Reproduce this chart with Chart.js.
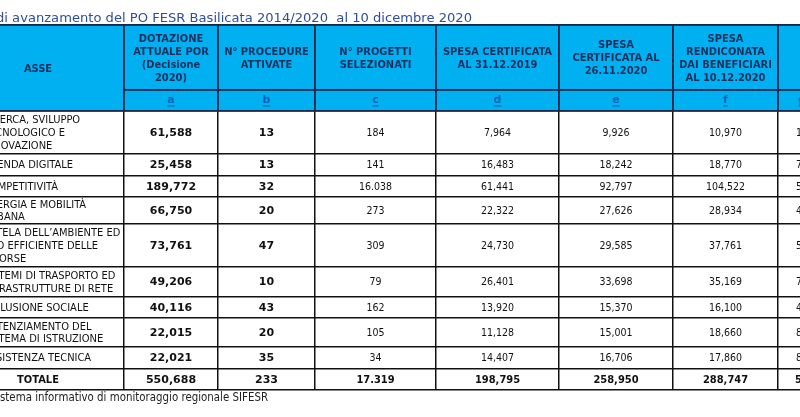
<!DOCTYPE html>
<html>
<head>
<meta charset="utf-8">
<script src="https://cdn.jsdelivr.net/npm/chart.js@4.4.1/dist/chart.umd.min.js"></script>
<style>
  html, body { margin: 0; padding: 0; background: #fff; }
</style>
</head>
<body>
<canvas id="tabella" width="800" height="417"></canvas>
<script>
// Dati (milioni di euro)
const assi = [
    ['RICERCA, SVILUPPO', 'TECNOLOGICO E', 'INNOVAZIONE'],
    ['AGENDA DIGITALE'],
    ['COMPETITIVITÀ'],
    ['ENERGIA E MOBILITÀ', 'URBANA'],
    ['TUTELA DELL\u2019AMBIENTE ED', 'USO EFFICIENTE DELLE', 'RISORSE'],
    ['SISTEMI DI TRASPORTO ED', 'INFRASTRUTTURE DI RETE'],
    ['INCLUSIONE SOCIALE'],
    ['POTENZIAMENTO DEL', 'SISTEMA DI ISTRUZIONE'],
    ['ASSISTENZA TECNICA'],
    ['TOTALE']
];
const dotazione     = [61.588, 25.458, 189.772, 66.750, 73.761, 49.206, 40.116, 22.015, 22.021, 550.688];
const procedure     = [13, 13, 32, 20, 47, 10, 43, 20, 35, 233];
const progetti      = [184, 141, 16038, 273, 309, 79, 162, 105, 34, 17319];
const spesaCert2019 = [7.964, 16.483, 61.441, 22.322, 24.730, 26.401, 13.920, 11.128, 14.407, 198.795];
const spesaCert2020 = [9.926, 18.242, 92.797, 27.626, 29.585, 33.698, 15.370, 15.001, 16.706, 258.950];
const spesaRend     = [10.970, 18.770, 104.522, 28.934, 37.761, 35.169, 16.100, 18.660, 17.860, 288.747];
const percRend      = [18, 74, 55, 43, 51, 71, 40, 85, 81, 52];

const intestazioni = [
    ['ASSE'],
    ['DOTAZIONE', 'ATTUALE POR', '(Decisione', '2020)'],
    ['N° PROCEDURE', 'ATTIVATE'],
    ['N° PROGETTI', 'SELEZIONATI'],
    ['SPESA CERTIFICATA', 'AL 31.12.2019'],
    ['SPESA', 'CERTIFICATA AL', '26.11.2020'],
    ['SPESA', 'RENDICONATA', 'DAI BENEFICIARI', 'AL 10.12.2020'],
    []
];
const lettere = ['', 'a', 'b', 'c', 'd', 'e', 'f', 'g'];

const titolo = 'Stato di avanzamento del PO FESR Basilicata 2014/2020  al 10 dicembre 2020';
const fonte = 'Fonte: Sistema informativo di monitoraggio regionale SIFESR';

// Layout della tabella
const colWidths = [172, 94, 97, 121, 123, 114, 105, 48];
const hiddenLeft = 48;          // parte della prima colonna fuori dall'immagine
const headHeights = [65, 21];
const rowHeights = [43, 22, 21, 27, 43, 30, 21, 29, 22, 21];
const labelIndent = 31;

const sum = a => a.reduce((s, v) => s + v, 0);
const edges = a => a.reduce((e, v) => { e.push(e[e.length - 1] + v); return e; }, [0]);
const colEdges = edges(colWidths);
const rowEdges = edges(headHeights.concat(rowHeights));
const headTotal = sum(headHeights);
const colMid = j => (colEdges[j] + colEdges[j + 1]) / 2;
const rowMid = i => (rowEdges[i + 2] + rowEdges[i + 3]) / 2;

const fmtDec = v => v.toFixed(3).replace('.', ',');
const fmtInt = v => String(v).replace(/\B(?=(\d{3})+(?!\d))/g, '.');

const COND = "'DejaVu Sans Condensed', 'DejaVu Sans', sans-serif";
const WIDE = "'DejaVu Sans', sans-serif";
const BLUE_BG = '#00b0f0';
const NAVY = '#17305e';
const LINE = '#111111';

// una serie per colonna: testo + stile
const colonne = [
    { values: assi.map(l => l), kind: 'label' },
    { values: dotazione.map(fmtDec), bold: true },
    { values: procedure.map(String), bold: true },
    { values: progetti.map(fmtInt) },
    { values: spesaCert2019.map(fmtDec) },
    { values: spesaCert2020.map(fmtDec) },
    { values: spesaRend.map(fmtDec) },
    { values: percRend.map(String) }
];

const datasets = colonne.map((c, j) => ({
    label: 'col' + j,
    kind: c.kind || 'value',
    bold: !!c.bold,
    data: c.values.map((t, i) => ({
        x: c.kind === 'label' && assi[i][0] !== 'TOTALE' ? colEdges[j] + labelIndent : colMid(j),
        y: rowMid(i),
        t: t
    })),
    pointRadius: 0
}));
datasets.push({
    label: 'head',
    kind: 'head',
    data: intestazioni.map((t, j) => ({ x: colMid(j), y: j === 0 ? headTotal / 2 : headHeights[0] / 2, t: t })),
    pointRadius: 0
});
datasets.push({
    label: 'letters',
    kind: 'letter',
    data: lettere.map((t, j) => ({ x: colMid(j), y: headHeights[0] + headHeights[1] / 2, t: t })),
    pointRadius: 0
});

function drawLines(ctx, lines, x, y, lh) {
    const y0 = y - (lines.length - 1) * lh / 2;
    lines.forEach((s, k) => ctx.fillText(s, x, y0 + k * lh));
}

function drawFitted(ctx, full, tail, rightX, tailWidth, y) {
    const k = tailWidth / ctx.measureText(tail).width;
    ctx.save();
    ctx.translate(rightX, y);
    ctx.scale(k, 1);
    ctx.textAlign = 'right';
    ctx.fillText(full, 0, 0);
    ctx.restore();
}

const tablePlugin = {
    id: 'tablePlugin',
    beforeDraw(chart) {
        const { ctx, scales: { x, y } } = chart;
        ctx.save();
        ctx.fillStyle = '#fff';
        ctx.fillRect(0, 0, chart.width, chart.height);
        ctx.fillStyle = BLUE_BG;
        const yt = y.getPixelForValue(0), yb = y.getPixelForValue(headTotal);
        ctx.fillRect(x.left, yt, x.right - x.left, yb - yt);
        ctx.restore();
    },
    beforeDatasetsDraw(chart) {
        const { ctx, scales: { x, y } } = chart;
        const yt = y.getPixelForValue(0), yb = y.getPixelForValue(headTotal);
        ctx.save();
        // cella ASSE unita sulle due righe d'intestazione
        const xr = x.getPixelForValue(colEdges[1]);
        ctx.fillStyle = BLUE_BG;
        ctx.fillRect(x.left, yt + 1, xr - 1 - x.left, yb - yt - 2);
        // bordi dell'intestazione in blu scuro
        ctx.strokeStyle = NAVY;
        ctx.lineWidth = 1.5;
        ctx.beginPath();
        colEdges.slice(1).forEach(v => {
            const px = x.getPixelForValue(v);
            ctx.moveTo(px, yt); ctx.lineTo(px, yb);
        });
        const ym = y.getPixelForValue(headHeights[0]);
        ctx.moveTo(x.left, yt); ctx.lineTo(x.right, yt);
        ctx.moveTo(xr, ym); ctx.lineTo(x.right, ym);
        ctx.moveTo(x.left, yb); ctx.lineTo(x.right, yb);
        ctx.stroke();
        ctx.restore();
    },
    afterDatasetsDraw(chart) {
        const { ctx, scales: { x, y } } = chart;
        ctx.save();
        ctx.textBaseline = 'middle';
        chart.data.datasets.forEach((ds, di) => {
            const meta = chart.getDatasetMeta(di);
            meta.data.forEach((pt, i) => {
                const t = ds.data[i].t;
                const totale = i === assi.length - 1;
                if (ds.kind === 'head') {
                    ctx.font = 'bold 11px ' + COND;
                    ctx.fillStyle = NAVY;
                    ctx.textAlign = 'center';
                    drawLines(ctx, t, pt.x, pt.y + 1, 13);
                } else if (ds.kind === 'letter') {
                    if (!t) return;
                    ctx.font = 'bold 11px ' + WIDE;
                    ctx.fillStyle = '#0a63b8';
                    ctx.textAlign = 'center';
                    ctx.fillText(t, pt.x, pt.y);
                    const w = ctx.measureText(t).width;
                    ctx.fillRect(pt.x - w / 2, pt.y + 5, w, 1);
                } else if (ds.kind === 'label') {
                    ctx.fillStyle = '#111';
                    if (totale) {
                        ctx.font = 'bold 11px ' + COND;
                        ctx.textAlign = 'center';
                    } else {
                        ctx.font = '11px ' + COND;
                        ctx.textAlign = 'left';
                    }
                    drawLines(ctx, t, pt.x, pt.y + 0.5, 12.7);
                } else {
                    ctx.fillStyle = '#111';
                    ctx.textAlign = 'center';
                    if (ds.bold) ctx.font = 'bold 11px ' + WIDE;
                    else if (totale) ctx.font = 'bold 11px ' + COND;
                    else ctx.font = '10.5px ' + COND;
                    ctx.fillText(t, pt.x, pt.y + 0.5);
                }
            });
        });
        // titolo e fonte
        ctx.textBaseline = 'alphabetic';
        ctx.font = '12.5px ' + WIDE;
        ctx.fillStyle = '#2e4e9c';
        drawFitted(ctx, titolo, titolo.slice(titolo.indexOf('di ')), x.getPixelForValue(hiddenLeft + 472), 476, y.getPixelForValue(-3));
        ctx.font = '11.5px ' + WIDE;
        ctx.fillStyle = '#222';
        drawFitted(ctx, fonte, fonte.slice(fonte.indexOf('stema')), x.getPixelForValue(hiddenLeft + 268), 268, y.getPixelForValue(376));
        ctx.restore();
    }
};

new Chart(document.getElementById('tabella'), {
    type: 'scatter',
    data: { datasets },
    options: {
        responsive: false,
        animation: false,
        layout: { padding: { top: 25, bottom: 27, left: 0, right: 0 } },
        plugins: { legend: { display: false }, tooltip: { enabled: false } },
        events: [],
        scales: {
            x: {
                type: 'linear',
                min: hiddenLeft,
                max: hiddenLeft + 800,
                afterBuildTicks: s => { s.ticks = colEdges.map(v => ({ value: v })); },
                ticks: { display: false },
                border: { display: false },
                grid: { color: LINE, lineWidth: 1.5, drawTicks: false }
            },
            y: {
                type: 'linear',
                reverse: true,
                min: 0,
                max: rowEdges[rowEdges.length - 1],
                afterBuildTicks: s => { s.ticks = rowEdges.map(v => ({ value: v })); },
                ticks: { display: false },
                border: { display: false },
                grid: { color: LINE, lineWidth: 1.5, drawTicks: false }
            }
        }
    },
    plugins: [tablePlugin]
});
</script>
</body>
</html>
